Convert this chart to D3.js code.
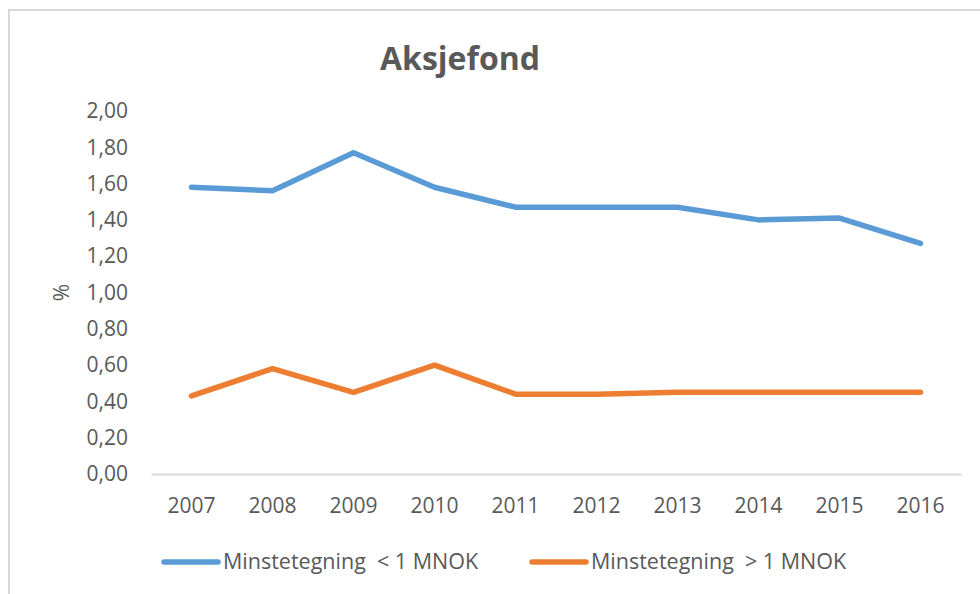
<!DOCTYPE html>
<html>
<head>
<meta charset="utf-8">
<script src="https://cdn.jsdelivr.net/npm/d3@7"></script>
<style>
  body { margin: 0; background: #fff; }
  svg { display: block; font-family: "Open Sans", sans-serif; }
</style>
</head>
<body>
<svg id="chart"></svg>
<script>
// Data
const years = ["2007", "2008", "2009", "2010", "2011", "2012", "2013", "2014", "2015", "2016"];
const under1 = [1.58, 1.56, 1.77, 1.58, 1.47, 1.47, 1.47, 1.40, 1.41, 1.27];
const over1 = [0.43, 0.58, 0.45, 0.60, 0.44, 0.44, 0.45, 0.45, 0.45, 0.45];
const yTicks = [0, 0.2, 0.4, 0.6, 0.8, 1.0, 1.2, 1.4, 1.6, 1.8, 2.0];
const seriesNames = ["Minstetegning  < 1 MNOK", "Minstetegning  > 1 MNOK"];
const colors = ["#5B9BD5", "#ED7D31"];

const width = 980, height = 594;
const margin = { top: 111, right: 19, bottom: 120, left: 151 };
const innerW = width - margin.left - margin.right;
const innerH = height - margin.top - margin.bottom;

const svg = d3.select("#chart")
  .attr("width", width)
  .attr("height", height);

// chart frame
svg.append("rect")
  .attr("x", 9).attr("y", 10)
  .attr("width", width).attr("height", height)
  .attr("fill", "none")
  .attr("stroke", "#d9d9d9")
  .attr("stroke-width", 2);

// title
svg.append("text")
  .attr("x", 460).attr("y", 70)
  .attr("text-anchor", "middle")
  .attr("font-size", 32)
  .attr("font-weight", "bold")
  .attr("fill", "#595959")
  .text("Aksjefond");

const g = svg.append("g")
  .attr("transform", `translate(${margin.left},${margin.top})`);

const x = d3.scaleBand().domain(years).range([0, innerW]);
const y = d3.scaleLinear().domain([0, 2]).range([innerH, 0]);

// y axis labels
const fmt = d => d.toFixed(2).replace(".", ",");
const yAxis = g.append("g")
  .call(d3.axisLeft(y).tickValues(yTicks).tickFormat(fmt).tickSize(0).tickPadding(23));
yAxis.select(".domain").remove();
yAxis.selectAll("text").attr("font-size", 21).attr("fill", "#595959").attr("font-family", "Open Sans, sans-serif");

// x axis
const xAxis = g.append("g")
  .attr("transform", `translate(0,${innerH})`)
  .call(d3.axisBottom(x).tickSize(0).tickPadding(24));
xAxis.select(".domain").attr("stroke", "#d9d9d9").attr("stroke-width", 2);
xAxis.selectAll("text").attr("font-size", 21).attr("fill", "#595959").attr("font-family", "Open Sans, sans-serif");

// y label
svg.append("text")
  .attr("transform", `translate(69,${margin.top + y(1)}) rotate(-90)`)
  .attr("text-anchor", "middle")
  .attr("font-size", 21)
  .attr("fill", "#595959")
  .text("%");

// lines
const line = d3.line()
  .x((d, i) => x(years[i]) + x.bandwidth() / 2)
  .y(d => y(d));

[under1, over1].forEach((s, i) => {
  g.append("path")
    .datum(s)
    .attr("d", line)
    .attr("fill", "none")
    .attr("stroke", colors[i])
    .attr("stroke-width", 5.5)
    .attr("stroke-linejoin", "round")
    .attr("stroke-linecap", "round");
});

// legend
const legendX = [164, 532];
const legend = svg.append("g");
seriesNames.forEach((name, i) => {
  legend.append("line")
    .attr("x1", legendX[i]).attr("x2", legendX[i] + 54)
    .attr("y1", 562).attr("y2", 562)
    .attr("stroke", colors[i])
    .attr("stroke-width", 5.5)
    .attr("stroke-linecap", "round");
  legend.append("text")
    .attr("x", legendX[i] + 59).attr("y", 569)
    .attr("font-size", 21.5)
    .attr("fill", "#595959")
    .style("white-space", "pre")
    .text(name);
});
</script>
</body>
</html>
